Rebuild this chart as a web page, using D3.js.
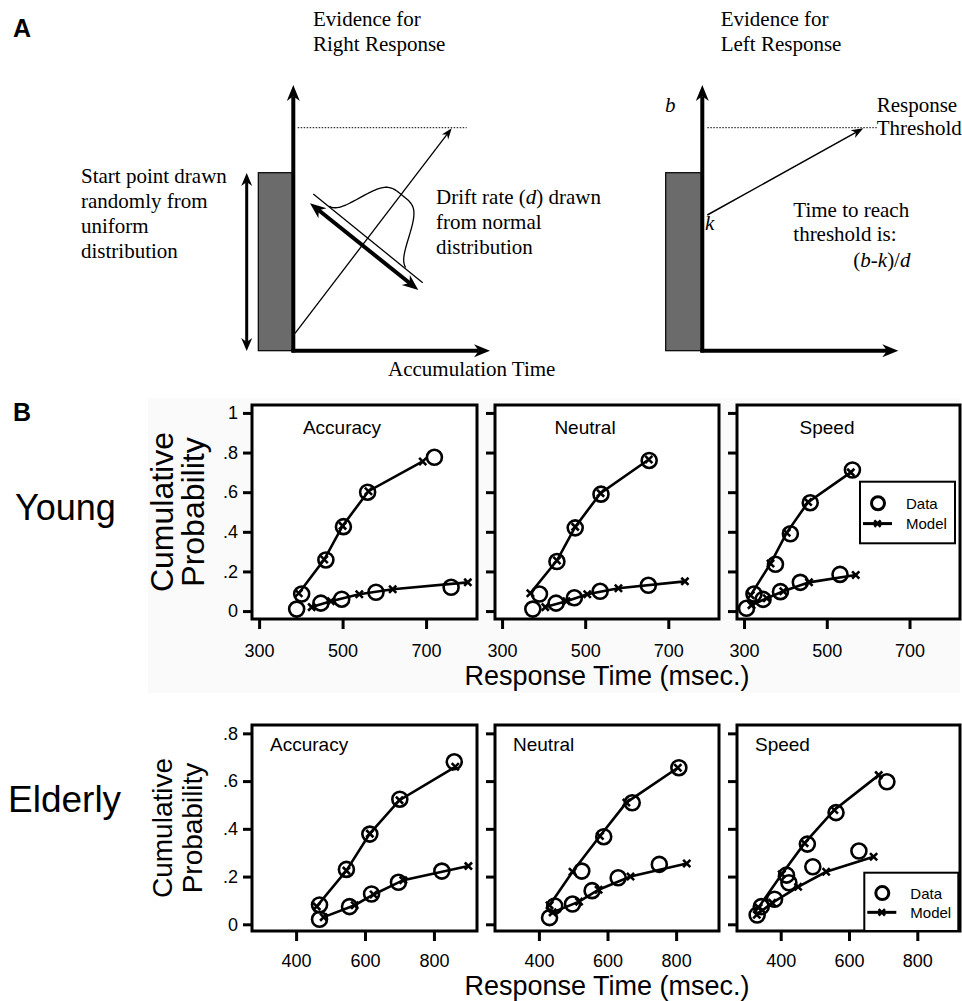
<!DOCTYPE html>
<html><head><meta charset="utf-8">
<script src="https://cdn.jsdelivr.net/npm/d3@7"></script>
<style>body{margin:0;background:#fff}</style>
</head><body><svg id="c" width="962" height="1001"></svg>
<script>
// ---------------- DATA ----------------
const conditions = ["Accuracy", "Neutral", "Speed"];
const groups = ["Young", "Elderly"];
const youngXTicks = [300, 500, 700];
const elderlyXTicks = [400, 600, 800];
const youngYTicks = [0, 0.2, 0.4, 0.6, 0.8, 1];
const elderlyYTicks = [0, 0.2, 0.4, 0.6, 0.8];
const legendLabels = ["Data", "Model"];

// [response time (msec), cumulative probability]
const youngAccuracyDataCorrect = [[402,.086],[460,.258],[502,.426],[560,.60],[720,.776]];
const youngAccuracyModelCorrect = [[395,.09],[456,.26],[500,.43],[562,.605],[692,.755]];
const youngAccuracyDataError = [[390,.01],[448,.04],[498,.06],[580,.095],[760,.12]];
const youngAccuracyModelError = [[426,.02],[472,.05],[540,.085],[620,.11],[800,.145]];

const youngNeutralDataCorrect = [[390,.086],[432,.25],[476,.42],[538,.59],[654,.76]];
const youngNeutralModelCorrect = [[368,.09],[432,.255],[476,.425],[537,.595],[653,.765]];
const youngNeutralDataError = [[374,.01],[430,.04],[474,.067],[536,.10],[652,.13]];
const youngNeutralModelError = [[404,.02],[455,.05],[505,.085],[580,.115],[740,.15]];

const youngSpeedDataCorrect = [[324,.086],[376,.236],[412,.39],[460,.547],[562,.712]];
const youngSpeedModelCorrect = [[316,.08],[364,.24],[403,.395],[455,.55],[558,.70]];
const youngSpeedDataError = [[306,.014],[346,.059],[388,.098],[436,.145],[532,.185]];
const youngSpeedModelError = [[318,.03],[355,.065],[395,.10],[457,.145],[570,.182]];

const elderlyAccuracyDataCorrect = [[468,.081],[546,.23],[614,.378],[701,.524],[859,.681]];
const elderlyAccuracyModelCorrect = [[460,.075],[546,.225],[614,.38],[700,.52],[862,.66]];
const elderlyAccuracyDataError = [[468,.021],[555,.074],[619,.127],[697,.176],[823,.223]];
const elderlyAccuracyModelError = [[480,.03],[570,.08],[625,.125],[711,.185],[900,.244]];

const elderlyNeutralDataCorrect = [[446,.077],[525,.223],[589,.367],[672,.509],[808,.656]];
const elderlyNeutralModelCorrect = [[431,.08],[498,.22],[578,.37],[655,.51],[805,.656]];
const elderlyNeutralDataError = [[431,.028],[498,.085],[555,.141],[631,.195],[751,.251]];
const elderlyNeutralModelError = [[440,.05],[517,.095],[574,.145],[667,.2],[831,.255]];

const elderlySpeedDataCorrect = [[343,.074],[417,.206],[478,.336],[562,.468],[711,.597]];
const elderlySpeedModelCorrect = [[335,.07],[403,.21],[470,.34],[557,.479],[687,.625]];
const elderlySpeedDataError = [[331,.039],[382,.105],[424,.174],[494,.241],[629,.307]];
const elderlySpeedModelError = [[330,.04],[375,.09],[451,.157],[533,.22],[672,.283]];

// ---------------- DRAWING ----------------
const svg = d3.select("#c");
const SANS = "'Liberation Sans', Arial, Helvetica, sans-serif";
const SERIF = "'Liberation Serif', 'Times New Roman', serif";

function arrow(g, x1, y1, x2, y2, sw, hl, hw, both) {
  const dx = x2 - x1, dy = y2 - y1, L = Math.hypot(dx, dy);
  const ux = dx / L, uy = dy / L, nx = -uy, ny = ux;
  const sx = both ? x1 + ux * hl * 0.7 : x1, sy = both ? y1 + uy * hl * 0.7 : y1;
  g.append("line").attr("x1", sx).attr("y1", sy)
    .attr("x2", x2 - ux * hl * 0.7).attr("y2", y2 - uy * hl * 0.7)
    .attr("stroke", "#000").attr("stroke-width", sw);
  const head = (tx, ty, vx, vy) => {
    const bx = tx - vx * hl, by = ty - vy * hl;
    const mx = tx - vx * hl * 0.7, my = ty - vy * hl * 0.7;
    g.append("path").attr("d",
      `M${tx},${ty}L${bx + nx * hw / 2},${by + ny * hw / 2}L${mx},${my}L${bx - nx * hw / 2},${by - ny * hw / 2}Z`)
      .attr("fill", "#000");
  };
  head(x2, y2, ux, uy);
  if (both) head(x1, y1, -ux, -uy);
}

function txt(g, x, y, s, size, family, opts = {}) {
  const t = g.append("text").attr("x", x).attr("y", y)
    .attr("font-family", family).attr("font-size", size).attr("fill", "#000");
  if (opts.anchor) t.attr("text-anchor", opts.anchor);
  if (opts.weight) t.attr("font-weight", opts.weight);
  if (opts.style) t.attr("font-style", opts.style);
  if (opts.html) t.html(s); else t.text(s);
  return t;
}

// ---------- Panel A (schematic) ----------
const A = svg.append("g");
txt(A, 13, 37, "A", 25, SANS, { weight: "bold" });

// Left diagram
A.append("rect").attr("x", 258.3).attr("y", 172.7).attr("width", 35).attr("height", 178)
  .attr("fill", "#6b6b6b").attr("stroke", "#000").attr("stroke-width", 1.2);
arrow(A, 293.3, 352.5, 293.3, 85, 4, 16, 13, false);
arrow(A, 291.5, 350.7, 490, 350.7, 4, 16, 13, false);
arrow(A, 246.7, 173, 246.7, 351, 3, 13, 11, true);
A.append("line").attr("x1", 297.7).attr("y1", 127.7).attr("x2", 466.7).attr("y2", 127.7)
  .attr("stroke", "#000").attr("stroke-width", 1).attr("stroke-dasharray", "1.5,1.5");
arrow(A, 295, 333.3, 451.7, 128.3, 1.3, 11, 8, false);
// baseline of drift distribution
const b0 = [313.3, 194], b1 = [422.7, 282.7];
A.append("line").attr("x1", b0[0]).attr("y1", b0[1]).attr("x2", b1[0]).attr("y2", b1[1])
  .attr("stroke", "#000").attr("stroke-width", 1.3);
arrow(A, 310, 203.3, 418.3, 290, 4, 16, 13, true);
// bell curve drawn on the baseline
{
  const L = Math.hypot(b1[0] - b0[0], b1[1] - b0[1]);
  const ux = (b1[0] - b0[0]) / L, uy = (b1[1] - b0[1]) / L;
  const nx = uy, ny = -ux;
  const pts = d3.range(20, 119, 1).map(u => {
    const h = 55 * Math.exp(-Math.pow((u - 70) / 34, 4));
    return [b0[0] + ux * u + nx * h, b0[1] + uy * u + ny * h];
  });
  A.append("path").attr("d", d3.line().curve(d3.curveBasis)(pts))
    .attr("fill", "none").attr("stroke", "#000").attr("stroke-width", 1.3);
}
txt(A, 313, 26, "Evidence for", 21, SERIF);
txt(A, 313, 51, "Right Response", 21, SERIF);
["Start point drawn", "randomly from", "uniform", "distribution"].forEach((s, i) =>
  txt(A, 81, 182.5 + i * 25, s, 21, SERIF));
txt(A, 436, 204, "Drift rate (<tspan font-style='italic'>d</tspan>) drawn", 21, SERIF, { html: true });
txt(A, 436, 229, "from normal", 21, SERIF);
txt(A, 436, 254, "distribution", 21, SERIF);
txt(A, 388, 376, "Accumulation Time", 21, SERIF);

// Right diagram
A.append("rect").attr("x", 665.7).attr("y", 172.7).attr("width", 36.6).attr("height", 178)
  .attr("fill", "#6b6b6b").attr("stroke", "#000").attr("stroke-width", 1.2);
arrow(A, 702.3, 352.5, 702.3, 85, 4, 16, 13, false);
arrow(A, 700.5, 350.7, 898.3, 350.7, 4, 16, 13, false);
A.append("line").attr("x1", 707.3).attr("y1", 127.7).attr("x2", 876.7).attr("y2", 127.7)
  .attr("stroke", "#000").attr("stroke-width", 1).attr("stroke-dasharray", "1.5,1.5");
arrow(A, 707.3, 215, 863.3, 128.3, 1.5, 12, 9, false);
txt(A, 720.7, 26, "Evidence for", 21, SERIF);
txt(A, 720.7, 51, "Left Response", 21, SERIF);
txt(A, 665, 111.5, "b", 21, SERIF, { style: "italic" });
txt(A, 705, 230, "k", 21, SERIF, { style: "italic" });
txt(A, 876.7, 111.5, "Response", 21, SERIF);
txt(A, 876.7, 135, "Threshold", 21, SERIF);
txt(A, 793.3, 217, "Time to reach", 21, SERIF);
txt(A, 793.3, 241, "threshold is:", 21, SERIF);
txt(A, 853.3, 267, "(<tspan font-style='italic'>b</tspan>-<tspan font-style='italic'>k</tspan>)/<tspan font-style='italic'>d</tspan>", 21, SERIF, { html: true });

// ---------- Panel B ----------
const B = svg.append("g");
B.append("rect").attr("x", 148).attr("y", 398).attr("width", 812).attr("height", 295).attr("fill", "#fafafa");
txt(B, 13, 421, "B", 25, SANS, { weight: "bold" });

const boxL = [252, 495, 737], boxR = [477, 719, 960];

const rows = [
  {
    group: "Young", top: 405, bottom: 619, xDomain: [283, 822], yDomain: [-0.04, 1.04],
    xTicks: youngXTicks, yTicks: youngYTicks, tickPad: 15,
    series: [
      [youngAccuracyDataCorrect, youngAccuracyModelCorrect, youngAccuracyDataError, youngAccuracyModelError],
      [youngNeutralDataCorrect, youngNeutralModelCorrect, youngNeutralDataError, youngNeutralModelError],
      [youngSpeedDataCorrect, youngSpeedModelCorrect, youngSpeedDataError, youngSpeedModelError]],
    titleY: 434, titleCentered: true,
    groupLabel: { x: 15, y: 520, size: 36 }, yTitle: { x1: 173, x2: 204, size: 32 },
    xTitleY: 685, legend: { x: 860, y: 481.7, w: 95, h: 61.6 }
  },
  {
    group: "Elderly", top: 725, bottom: 931, xDomain: [272, 925], yDomain: [-0.028, 0.835],
    xTicks: elderlyXTicks, yTicks: elderlyYTicks, tickPad: 13,
    series: [
      [elderlyAccuracyDataCorrect, elderlyAccuracyModelCorrect, elderlyAccuracyDataError, elderlyAccuracyModelError],
      [elderlyNeutralDataCorrect, elderlyNeutralModelCorrect, elderlyNeutralDataError, elderlyNeutralModelError],
      [elderlySpeedDataCorrect, elderlySpeedModelCorrect, elderlySpeedDataError, elderlySpeedModelError]],
    titleY: 750.5, titleCentered: false,
    groupLabel: { x: 8, y: 812, size: 37 }, yTitle: { x1: 172, x2: 202, size: 28 },
    xTitleY: 995, legend: { x: 864.3, y: 872.7, w: 94, h: 58.3 }
  }
];

const yFmt = d => d === 0 ? "0" : d === 1 ? "1" : d3.format(".1f")(d).replace(/^0/, "");

function xMark(g, cx, cy, s) {
  g.append("path").attr("d", `M${cx - s},${cy - s}L${cx + s},${cy + s}M${cx - s},${cy + s}L${cx + s},${cy - s}`)
    .attr("stroke", "#000").attr("stroke-width", 2.6).attr("fill", "none");
}

rows.forEach(row => {
  const y = d3.scaleLinear().domain(row.yDomain).range([row.bottom, row.top]);
  conditions.forEach((cond, ci) => {
    const x = d3.scaleLinear().domain(row.xDomain).range([boxL[ci], boxR[ci]]);
    const g = B.append("g");
    g.append("rect").attr("x", boxL[ci]).attr("y", row.top)
      .attr("width", boxR[ci] - boxL[ci]).attr("height", row.bottom - row.top)
      .attr("fill", "#fff").attr("stroke", "#000").attr("stroke-width", 3);

    const ya = g.append("g").attr("transform", `translate(${boxL[ci]},0)`)
      .call(d3.axisLeft(y).tickValues(row.yTicks).tickSize(9).tickPadding(5)
        .tickFormat(ci === 0 ? yFmt : () => ""));
    ya.select(".domain").remove();
    ya.selectAll("line").attr("stroke-width", 3);
    ya.selectAll("text").attr("font-family", SANS).attr("font-size", 18).attr("fill", "#000");

    const xa = g.append("g").attr("transform", `translate(0,${row.bottom})`)
      .call(d3.axisBottom(x).tickValues(row.xTicks).tickSize(10).tickPadding(row.tickPad));
    xa.select(".domain").remove();
    xa.selectAll("line").attr("stroke-width", 3);
    xa.selectAll("text").attr("font-family", SANS).attr("font-size", 18).attr("fill", "#000");

    // title
    if (row.titleCentered) txt(g, boxL[ci] + 90, row.titleY, cond, 19, SANS, { anchor: "middle" });
    else txt(g, boxL[ci] + 18, row.titleY, cond, 19, SANS);

    const [dC, mC, dE, mE] = row.series[ci];
    const line = d3.line().x(d => x(d[0])).y(d => y(d[1]));
    [mC, mE].forEach(m => {
      g.append("path").attr("d", line(m)).attr("fill", "none")
        .attr("stroke", "#000").attr("stroke-width", 2.6);
      m.forEach(d => xMark(g, x(d[0]), y(d[1]), 3.6));
    });
    [dC, dE].forEach(dd => dd.forEach(d =>
      g.append("circle").attr("cx", x(d[0])).attr("cy", y(d[1])).attr("r", 7.5)
        .attr("fill", "none").attr("stroke", "#000").attr("stroke-width", 2.6)));
  });

  // group label
  txt(B, row.groupLabel.x, row.groupLabel.y, row.group, row.groupLabel.size, SANS);
  // y titles
  const cy = (row.top + row.bottom) / 2;
  txt(B, 0, 0, "Cumulative", row.yTitle.size, SANS, { anchor: "middle" })
    .attr("transform", `translate(${row.yTitle.x1},${cy}) rotate(-90)`);
  txt(B, 0, 0, "Probability", row.yTitle.size, SANS, { anchor: "middle" })
    .attr("transform", `translate(${row.yTitle.x2},${cy}) rotate(-90)`);
  // x title
  txt(B, (boxL[1] + boxR[1]) / 2, row.xTitleY, "Response Time (msec.)", 27, SANS, { anchor: "middle" });

  // legend
  const L = row.legend;
  const lg = B.append("g");
  lg.append("rect").attr("x", L.x).attr("y", L.y).attr("width", L.w).attr("height", L.h)
    .attr("fill", "#fff").attr("stroke", "#000").attr("stroke-width", 2);
  const r1 = L.y + L.h * 0.35, r2 = L.y + L.h * 0.68;
  lg.append("circle").attr("cx", L.x + 18).attr("cy", r1).attr("r", 6.5)
    .attr("fill", "none").attr("stroke", "#000").attr("stroke-width", 3);
  lg.append("line").attr("x1", L.x + 3).attr("x2", L.x + 32).attr("y1", r2).attr("y2", r2)
    .attr("stroke", "#000").attr("stroke-width", 3);
  xMark(lg, L.x + 17.5, r2, 3.2);
  txt(lg, L.x + 46, r1 + 5.5, legendLabels[0], 15, SANS);
  txt(lg, L.x + 46, r2 + 5.5, legendLabels[1], 15, SANS);
});
</script>
</body></html>
